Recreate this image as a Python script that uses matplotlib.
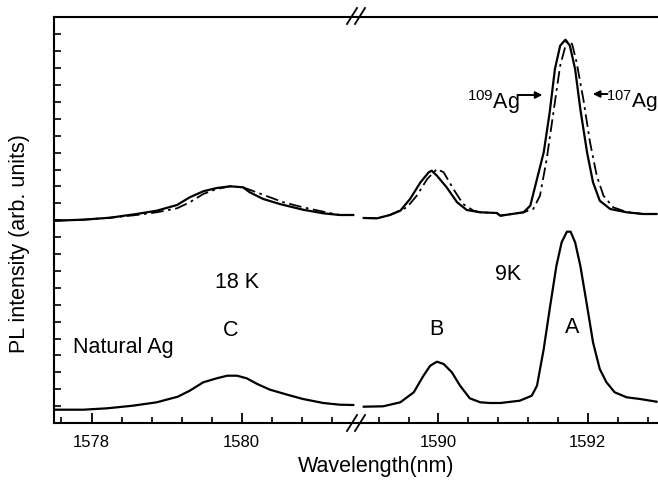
import numpy as np
import matplotlib
matplotlib.use("Agg")
import matplotlib.pyplot as plt

plt.rcParams['font.family'] = ['Liberation Sans', 'DejaVu Sans']
plt.rcParams['mathtext.fontset'] = 'custom'
plt.rcParams['mathtext.rm'] = 'Liberation Sans'
plt.rcParams['mathtext.default'] = 'regular'

# ---------------- data (wavelength in nm, PL intensity in arb. units) -------------
# lower trace (natural Ag), left segment (18 K)
nat_left_wl = [1577.50, 1577.89, 1578.21, 1578.55, 1578.87, 1579.15, 1579.31, 1579.49,
               1579.67, 1579.81, 1579.94, 1580.07, 1580.21, 1580.38, 1580.61, 1580.82,
               1581.09, 1581.31, 1581.49]
nat_left_int = [13.3, 13.3, 14.7, 17.3, 20.7, 26.3, 32.3, 40.7,
                44.7, 47.3, 47.3, 44.7, 39.0, 33.3, 28.3, 24.0,
                20.0, 18.3, 18.0]
# lower trace, right segment (9 K)
nat_right_wl = [1589.00, 1589.26, 1589.49, 1589.67, 1589.80, 1589.89, 1589.98, 1590.07,
                1590.18, 1590.29, 1590.42, 1590.56, 1590.69, 1590.83, 1591.09, 1591.25,
                1591.32, 1591.41, 1591.49, 1591.58, 1591.65, 1591.72, 1591.77, 1591.83,
                1591.90, 1591.99, 1592.07, 1592.16, 1592.25, 1592.36, 1592.52, 1592.70,
                1592.92]
nat_right_int = [16.3, 16.7, 20.7, 30.7, 47.3, 57.3, 61.3, 59.0,
                 50.7, 37.3, 24.7, 20.7, 20.0, 20.0, 22.3, 27.3,
                 37.3, 74.0, 114.0, 157.3, 180.7, 191.3, 191.3, 180.7,
                 157.3, 117.3, 80.7, 54.0, 40.7, 30.7, 25.7, 24.0,
                 21.3]

# upper traces: 109Ag (solid), 107Ag (dash-dot), left segment
ag109_left_wl = [1577.50, 1577.89, 1578.25, 1578.60, 1578.87, 1579.14, 1579.31, 1579.49,
                 1579.67, 1579.85, 1580.02, 1580.11, 1580.29, 1580.51, 1580.82, 1581.09,
                 1581.31, 1581.49]
ag109_left_int = [202.3, 203.3, 205.3, 209.0, 212.3, 218.0, 225.7, 231.7,
                  235.0, 236.7, 235.7, 230.7, 224.0, 219.0, 213.3, 209.7,
                  208.0, 208.0]
ag107_left_wl = [1577.50, 1577.89, 1578.25, 1578.60, 1578.87, 1579.14, 1579.31, 1579.49,
                 1579.67, 1579.85, 1580.02, 1580.20, 1580.38, 1580.56, 1580.82, 1581.09,
                 1581.31, 1581.49]
ag107_left_int = [202.3, 203.3, 205.3, 208.0, 210.7, 214.7, 220.7, 229.0,
                  234.0, 236.7, 235.7, 230.7, 225.7, 220.7, 215.7, 211.3,
                  208.0, 208.0]
# upper traces, right segment
ag109_right_wl = [1589.00, 1589.18, 1589.35, 1589.49, 1589.62, 1589.76, 1589.87, 1589.91,
                  1589.98, 1590.11, 1590.25, 1590.38, 1590.56, 1590.78, 1590.83, 1591.14,
                  1591.23, 1591.32, 1591.41, 1591.49, 1591.56, 1591.63, 1591.70, 1591.76,
                  1591.83, 1591.90, 1591.99, 1592.07, 1592.16, 1592.30, 1592.52, 1592.74,
                  1592.92]
ag109_right_int = [205.0, 204.7, 208.0, 212.3, 224.0, 240.7, 250.7, 252.3,
                   247.3, 235.7, 220.7, 213.0, 210.7, 210.0, 207.3, 210.7,
                   217.3, 244.0, 270.7, 310.7, 354.0, 377.3, 383.3, 377.3,
                   354.0, 314.0, 270.7, 240.7, 222.3, 214.0, 210.7, 209.0,
                   209.0]
ag107_right_wl = [1589.00, 1589.18, 1589.35, 1589.58, 1589.71, 1589.85, 1589.98, 1590.07,
                  1590.20, 1590.33, 1590.47, 1590.56, 1590.78, 1590.83, 1591.14, 1591.27,
                  1591.36, 1591.45, 1591.54, 1591.63, 1591.72, 1591.79, 1591.85, 1591.94,
                  1592.03, 1592.12, 1592.21, 1592.34, 1592.52, 1592.74, 1592.92]
ag107_right_int = [205.0, 204.7, 208.0, 215.7, 227.3, 244.0, 254.0, 250.7,
                   234.0, 219.0, 212.3, 210.7, 210.0, 207.3, 210.7, 214.0,
                   227.3, 264.0, 310.7, 357.3, 382.3, 379.0, 360.7, 324.0,
                   280.7, 247.3, 227.3, 215.7, 211.0, 209.0, 209.0]

left_major = [1578, 1580]
right_major = [1590, 1592]
left_minor = [1577.6, 1578.4, 1578.8, 1579.2, 1579.6, 1580.4, 1580.8, 1581.2]
right_minor = [1589.2, 1589.6, 1590.4, 1590.8, 1591.2, 1591.6, 1592.4, 1592.8]
left_xlim = (1577.5, 1581.54)
right_xlim = (1588.91, 1592.94)
ylim = (0, 406)
ytick_step = 16.9

# ---------------- figure ----------------
W, H = 658, 481
fig = plt.figure(figsize=(W / 100, H / 100), dpi=100)
bx0, by, bh = 54, 424, 406
xbreak = 357
ax1 = fig.add_axes([bx0 / W, (H - by) / H, (xbreak - bx0) / W, bh / H])
ax2 = fig.add_axes([xbreak / W, (H - by) / H, (W - xbreak) / W, bh / H])

lw = 1.6
dashdot = (0, (7, 2.5, 1.5, 2.5))
ax1.plot(nat_left_wl, nat_left_int, color='black', lw=lw)
ax1.plot(ag109_left_wl, ag109_left_int, color='black', lw=lw)
ax1.plot(ag107_left_wl, ag107_left_int, color='black', lw=1.3, linestyle=dashdot)
ax2.plot(nat_right_wl, nat_right_int, color='black', lw=lw)
ax2.plot(ag109_right_wl, ag109_right_int, color='black', lw=lw)
ax2.plot(ag107_right_wl, ag107_right_int, color='black', lw=1.3, linestyle=dashdot)

for ax, xl, maj, mnr in [(ax1, left_xlim, left_major, left_minor),
                         (ax2, right_xlim, right_major, right_minor)]:
    ax.set_xlim(*xl)
    ax.set_ylim(*ylim)
    ax.set_xticks(maj)
    ax.set_xticklabels([str(v) for v in maj])
    ax.set_xticks(mnr, minor=True)
    ax.tick_params(axis='x', which='major', direction='in', length=7, width=1.3,
                   labelsize=12, pad=8, top=False)
    ax.tick_params(axis='x', which='minor', direction='in', length=4, width=1.2, top=False)
    ax.spines['right'].set_visible(False)
    for s in ax.spines.values():
        s.set_linewidth(1.5)

ax1.set_yticks(np.arange(1, 24) * ytick_step)
ax1.set_yticklabels([])
ax1.tick_params(axis='y', direction='in', length=5, width=1.2, right=False)
ax2.spines['left'].set_visible(False)
ax2.set_yticks([])

# axis break marks
def brk(yc):
    for dx in (-5, 3):
        fig.add_artist(plt.Line2D([(xbreak + dx - 5) / W, (xbreak + dx + 5) / W],
                                  [(H - yc - 8) / H, (H - yc + 8) / H],
                                  color='black', lw=1.3, transform=fig.transFigure))
brk(17)
brk(424)

# labels
fig.text(376 / W, 1 - 467 / H, 'Wavelength(nm)', ha='center', va='center', fontsize=15.5)
fig.text(20 / W, 1 - 244 / H, 'PL intensity (arb. units)', ha='center', va='center',
         rotation=90, fontsize=15.5)

fs = 15.5
ax1.text(1579.94, 141, '18 K', ha='center', va='center', fontsize=fs)
ax1.text(1579.86, 93, 'C', ha='center', va='center', fontsize=fs)
ax1.text(1577.75, 76, 'Natural Ag', ha='left', va='center', fontsize=fs)
ax2.text(1590.93, 149, '9K', ha='center', va='center', fontsize=fs)
ax2.text(1589.97, 94, 'B', ha='center', va='center', fontsize=fs)
ax2.text(1591.79, 96, 'A', ha='center', va='center', fontsize=fs)

ax2.text(1590.38, 322, r'$^{109}$Ag', ha='left', va='center', fontsize=fs)
ax2.annotate('', xy=(1591.43, 328), xytext=(1591.02, 328),
             arrowprops=dict(arrowstyle='-|>', lw=1.4, color='black', mutation_scale=10))
ax2.annotate('', xy=(1592.03, 329), xytext=(1592.30, 329),
             arrowprops=dict(arrowstyle='-|>', lw=1.4, color='black', mutation_scale=10))
ax2.text(1592.93, 323, r'$^{107}$Ag', ha='right', va='center', fontsize=15, clip_on=False)

fig.savefig('out.png', dpi=100)
